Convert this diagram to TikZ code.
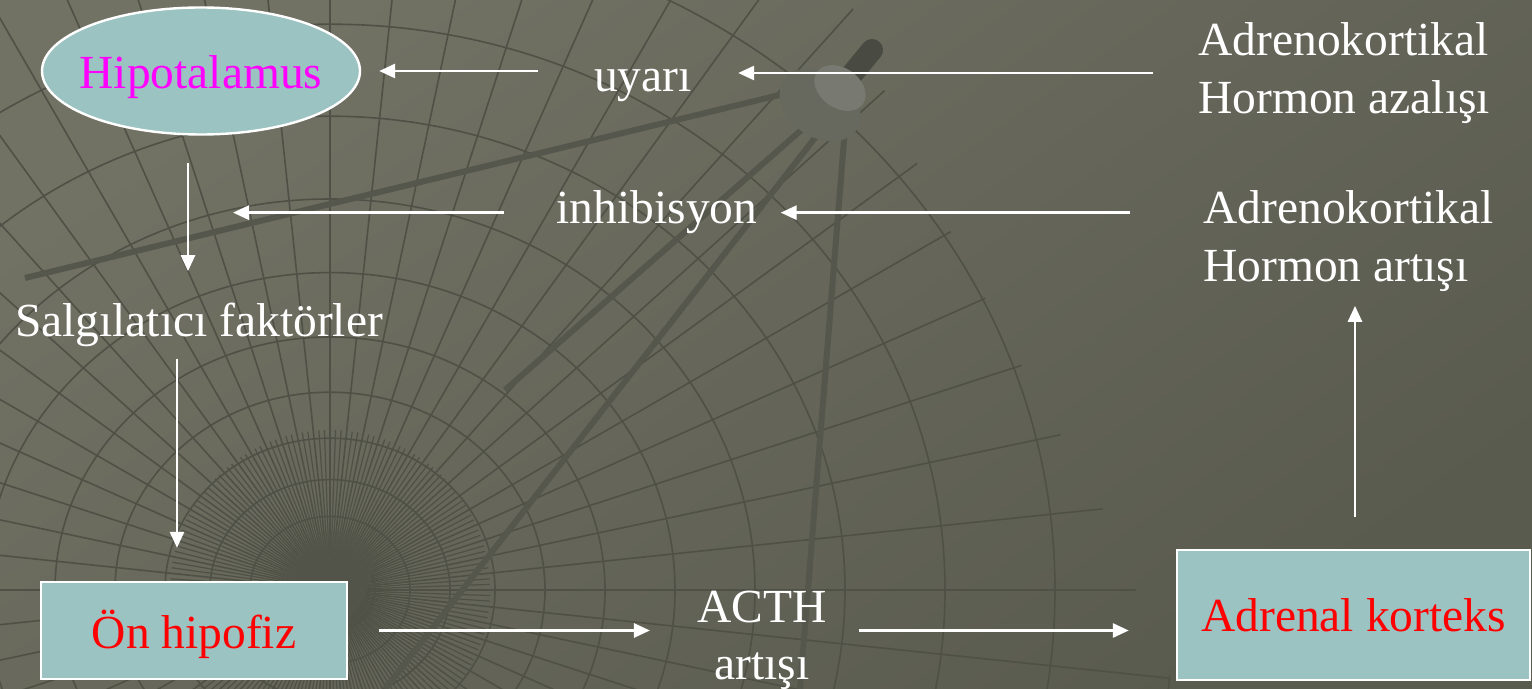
\documentclass[tikz,border=0pt]{standalone}
\usepackage{fontspec}
\setmainfont{Liberation Serif}
\usetikzlibrary{shapes.geometric,arrows.meta}
\definecolor{bgA}{HTML}{717264}
\definecolor{bgB}{HTML}{5A5B4F}
\definecolor{gridc}{HTML}{4F5146}
\definecolor{boxfill}{HTML}{9BC3C2}
\definecolor{satc}{HTML}{56574C}
\definecolor{mag}{RGB}{255,0,255}
\definecolor{rd}{RGB}{255,0,0}
\tikzset{
  arr/.style={draw=white, line width=1.4pt, -{Triangle[length=8pt,width=7pt]}},
  lbl/.style={text=white, inner sep=0pt, font=\fontsize{23.75}{29}\selectfont},
  boxnode/.style={draw=white, line width=1.2pt, fill=boxfill, inner sep=0pt, font=\fontsize{23.75}{29}\selectfont},
  gridline/.style={draw=gridc, line width=0.8pt},
  strut/.style={draw=satc, line width=3pt},
}
\begin{document}
\begin{tikzpicture}[x=0.5pt,y=-0.5pt]
\useasboundingbox (0,0) rectangle (1532,689);
% background
\shade[top color=bgA, bottom color=bgB, shading angle=35] (0,0) rectangle (1532,689);
\begin{scope}
  \clip (0,0) -- (850,0) .. controls (900,150) and (1000,330) .. (1108,518) -- (1175,689) -- (0,689) -- cycle;
  \foreach \a in {0,6,...,354} \draw[gridline] (330,590) -- ++(\a:1700);
  \foreach \a in {2,4,8,10,14,16,20,22,26,28,32,34,38,40,44,46,50,52,56,58,62,64,68,70,74,76,80,82,86,88,92,94,98,100,104,106,110,112,116,118,122,124,128,130,134,136,140,142,146,148,152,154,158,160,164,166,170,172,176,178,182,184,188,190,194,196,200,202,206,208,212,214,218,220,224,226,230,232,236,238,242,244,248,250,254,256,260,262,266,268,272,274,278,280,284,286,290,292,296,298,302,304,308,310,314,316,320,322,326,328,332,334,338,340,344,346,350,352,356,358}
    \draw[gridline, line width=0.6pt] (330,590) -- ++(\a:160);
  \foreach \r in {45,80,120,165,215,275,345,425,515,615,725,845,975,1115}
    \draw[gridline] (330,590) ellipse [x radius={\r*0.5pt}, y radius={\r*0.46pt}];
\end{scope}
\fill[satc, opacity=0.6, rotate around={-35:(325,585)}] (325,585) ellipse [x radius=20pt, y radius=30pt];
% satellite struts
\draw[strut] (800,90) -- (25,278);
\draw[strut] (815,118) -- (505,390);
\draw[strut] (825,125) -- (385,689);
\draw[strut] (845,128) -- (800,689);
\draw[satc!85!black, line width=11pt, line cap=round] (835,95) -- (872,50);
\fill[satc!90!white, rotate around={-35:(820,105)}] (820,105) ellipse [x radius=22pt, y radius=16pt];
\fill[satc!80!white, rotate around={-35:(840,88)}] (840,88) ellipse [x radius=14pt, y radius=10pt];

% nodes
\node[boxnode, shape=ellipse, minimum width=159pt, minimum height=63.5pt] (hipo) at (201,71)
  {\makebox[0pt][c]{\textcolor{mag}{\raisebox{-9pt}[0pt][0pt]{Hipotalamus}}}};
\node[lbl, anchor=base] (uyari) at (643,92) {uyarı};
\node[lbl, anchor=north west, align=left] (azal) at (1198,22) {Adrenokortikal\\Hormon azalışı};
\node[lbl, anchor=base] (inhib) at (657,224) {inhibisyon};
\node[lbl, anchor=north west, align=left] (artis) at (1203,190) {Adrenokortikal\\Hormon artışı};
\node[lbl, anchor=base] (salg) at (199,337) {Salgılatıcı faktörler};
\node[boxnode, minimum width=153pt, minimum height=48.5pt] (onhip) at (194,630.5)
  {\textcolor{rd}{\raisebox{-9.25pt}[0pt][0pt]{Ön hipofiz}}};
\node[lbl, anchor=north, align=center, font=\fontsize{23.75}{28.5}\selectfont] (acth) at (762,591) {ACTH\\artışı};
\node[boxnode, minimum width=176.5pt, minimum height=65pt] (adr) at (1353.5,615)
  {\textcolor{rd}{\raisebox{-8.5pt}[0pt][0pt]{Adrenal korteks}}};

% connectors
\draw[arr, shorten <=28pt, shorten >=9pt] (uyari.west |- hipo.east) -- (hipo.east);
\draw[arr, shorten <=22.5pt, shorten >=23pt] (azal.west |- 0,73) -- (uyari.east |- 0,73);
\draw[arr, shorten <=26pt, shorten >=17pt] (inhib.west) -- (inhib.west -| salg);
\draw[arr, shorten <=36.5pt, shorten >=11.5pt] (inhib.east -| artis.west) -- (inhib.east);
\draw[arr, shorten <=13.75pt, shorten >=16pt] ([xshift=-6.5pt]hipo.south) -- ([xshift=-6.5pt]hipo.south |- salg.north);
\draw[arr, shorten <=5.5pt, shorten >=16.5pt] ([xshift=-11pt]salg.south) -- ([xshift=-11pt]salg.south |- onhip.north);
\draw[arr, shorten <=15.5pt, shorten >=23.5pt] (onhip.east) -- (onhip.east -| acth.west);
\draw[arr, shorten <=16pt, shorten >=23.5pt] (onhip.east -| acth.east) -- (onhip.east -| adr.west);
\draw[arr, shorten <=16pt, shorten >=7pt] ([xshift=0.75pt]adr.north) -- ([xshift=0.75pt]adr.north |- artis.south);
\end{tikzpicture}
\end{document}
